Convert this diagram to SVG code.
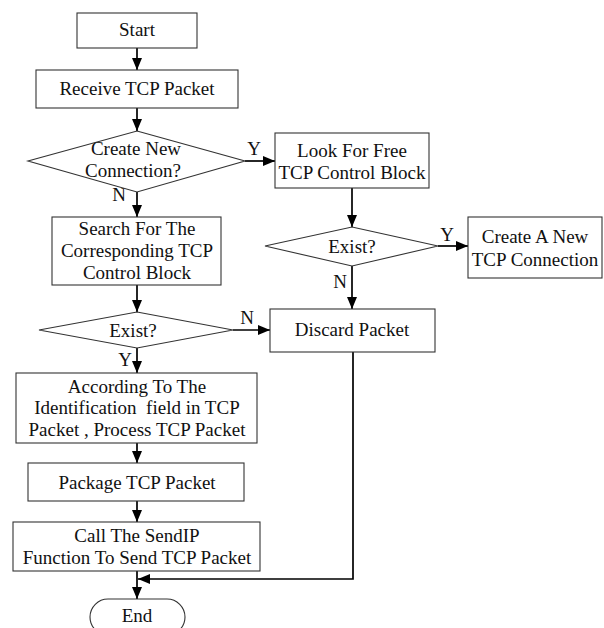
<svg xmlns="http://www.w3.org/2000/svg" width="604" height="628" viewBox="0 0 604 628">
  <style>
    .box { fill: #fff; stroke: #333; stroke-width: 1.1; }
    .t { font-family: "Liberation Serif", "Times New Roman", serif; font-size: 19px; fill: #111; text-anchor: middle; white-space: pre; }
    .lbl { font-family: "Liberation Serif", "Times New Roman", serif; font-size: 19px; fill: #111; text-anchor: middle; }
    .edge { fill: none; stroke: #000; stroke-width: 1.7; }
  </style>
  <defs>
    <marker id="arrow" viewBox="0 0 12 10" refX="12" refY="5" markerWidth="12" markerHeight="10" markerUnits="userSpaceOnUse" orient="auto">
      <path d="M0,0 L12,5 L0,10 Z" fill="#000"/>
    </marker>
  </defs>

  <rect width="604" height="628" fill="#fff"/>

  <!-- connectors -->
  <g id="connectors">
    <path class="edge" d="M137,48 V70" marker-end="url(#arrow)"/>
    <path class="edge" d="M137,108 V131" marker-end="url(#arrow)"/>
    <path class="edge" d="M245,161 H275" marker-end="url(#arrow)"/>
    <path class="edge" d="M137,192 V217" marker-end="url(#arrow)"/>
    <path class="edge" d="M352,188 V227" marker-end="url(#arrow)"/>
    <path class="edge" d="M438,246 H468" marker-end="url(#arrow)"/>
    <path class="edge" d="M352,266 V309" marker-end="url(#arrow)"/>
    <path class="edge" d="M137,285 V312" marker-end="url(#arrow)"/>
    <path class="edge" d="M233,330 H270" marker-end="url(#arrow)"/>
    <path class="edge" d="M137,348 V373" marker-end="url(#arrow)"/>
    <path class="edge" d="M137,443 V463" marker-end="url(#arrow)"/>
    <path class="edge" d="M137,501 V522" marker-end="url(#arrow)"/>
    <path class="edge" d="M137,571 V599" marker-end="url(#arrow)"/>
    <path class="edge" d="M353,352 V579 H138" marker-end="url(#arrow)"/>
    <text class="lbl" x="254" y="155">Y</text>
    <text class="lbl" x="119" y="201">N</text>
    <text class="lbl" x="447" y="241">Y</text>
    <text class="lbl" x="340" y="288">N</text>
    <text class="lbl" x="247" y="324">N</text>
    <text class="lbl" x="125" y="366">Y</text>
  </g>

  <g id="start">
    <rect class="box" x="77" y="13" width="120" height="35"/>
    <text class="t" x="137" y="36">Start</text>
  </g>

  <g id="receive">
    <rect class="box" x="36" y="70" width="202" height="38"/>
    <text class="t" x="137" y="95">Receive TCP Packet</text>
  </g>

  <g id="create-new">
    <polygon class="box" points="137,131 245,161 137,192 28,161"/>
    <text class="t" x="136" y="155">Create New</text>
    <text class="t" x="133" y="177">Connection?</text>
  </g>

  <g id="look-free">
    <rect class="box" x="275" y="133" width="154" height="55"/>
    <text class="t" x="352" y="157">Look For Free</text>
    <text class="t" x="352" y="179">TCP Control Block</text>
  </g>

  <g id="exist-free">
    <polygon class="box" points="352,227 438,246 352,266 265,246"/>
    <text class="t" x="352" y="253">Exist?</text>
  </g>

  <g id="create-conn">
    <rect class="box" x="468" y="217" width="134" height="61"/>
    <text class="t" x="535" y="243">Create A New</text>
    <text class="t" x="535" y="266">TCP Connection</text>
  </g>

  <g id="search">
    <rect class="box" x="52" y="217" width="169" height="68"/>
    <text class="t" x="137" y="235">Search For The</text>
    <text class="t" x="137" y="257">Corresponding TCP</text>
    <text class="t" x="137" y="279">Control Block</text>
  </g>

  <g id="exist-match">
    <polygon class="box" points="137,312 233,330 137,348 39,330"/>
    <text class="t" x="133" y="337">Exist?</text>
  </g>

  <g id="discard">
    <rect class="box" x="270" y="309" width="165" height="43"/>
    <text class="t" x="352" y="336">Discard Packet</text>
  </g>

  <g id="process">
    <rect class="box" x="16" y="373" width="241" height="70"/>
    <text class="t" x="137" y="393">According To The</text>
    <text class="t" x="137" y="414">Identification  field in TCP</text>
    <text class="t" x="137" y="436">Packet , Process TCP Packet</text>
  </g>

  <g id="package">
    <rect class="box" x="28" y="463" width="216" height="38"/>
    <text class="t" x="137" y="489">Package TCP Packet</text>
  </g>

  <g id="send">
    <rect class="box" x="13" y="522" width="247" height="49"/>
    <text class="t" x="137" y="542">Call The SendIP</text>
    <text class="t" x="137" y="564">Function To Send TCP Packet</text>
  </g>

  <g id="end">
    <rect class="box" x="90" y="599" width="95" height="36" rx="18" ry="18"/>
    <text class="t" x="137" y="622">End</text>
  </g>
</svg>
